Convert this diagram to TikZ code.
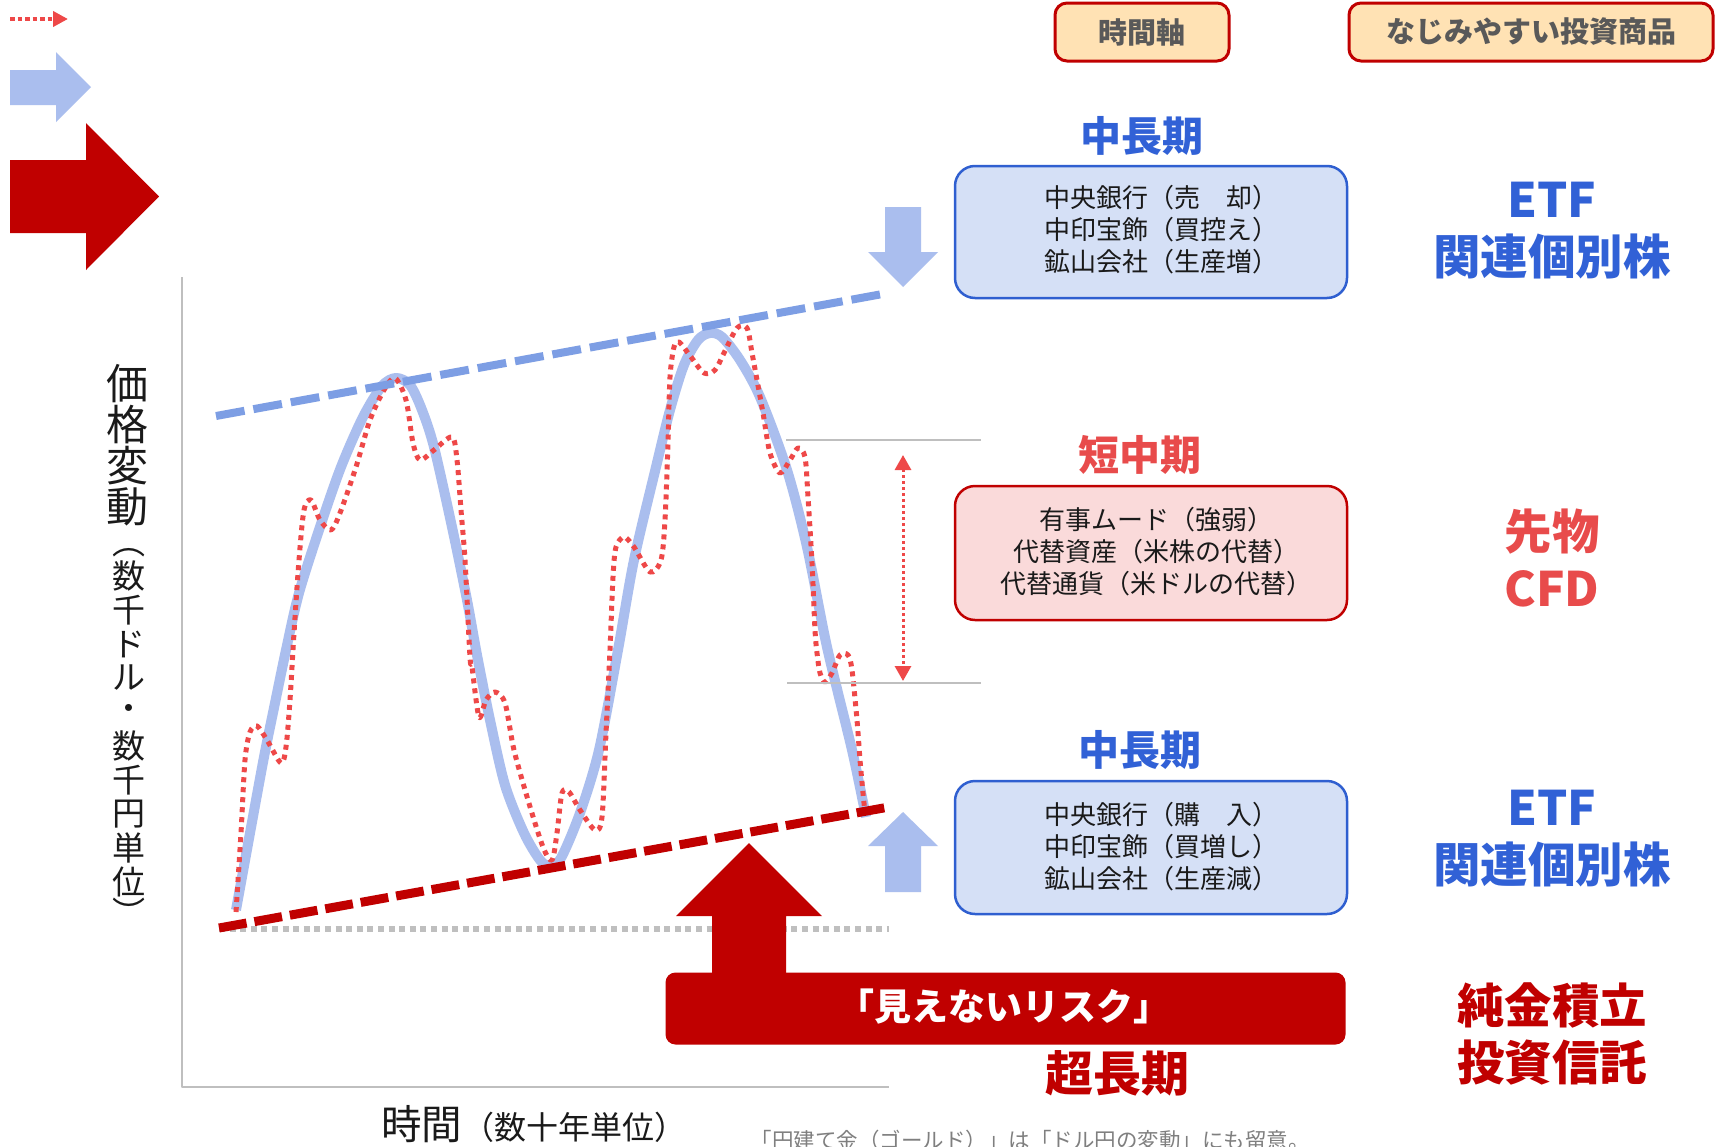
\documentclass[tikz,border=0pt]{standalone}
\usepackage{fontspec}
\setmainfont{Noto Sans CJK JP}
\usetikzlibrary{arrows.meta}
\definecolor{dred}{RGB}{192,0,0}
\definecolor{tblue}{RGB}{49,97,214}
\definecolor{bxblue}{RGB}{47,95,208}
\definecolor{bxbluefill}{RGB}{213,224,246}
\definecolor{lblue}{RGB}{170,190,238}
\definecolor{mblue}{RGB}{125,158,228}
\definecolor{rdot}{RGB}{238,72,72}
\definecolor{tred}{RGB}{232,75,75}
\definecolor{pinkfill}{RGB}{250,218,218}
\definecolor{hdrfill}{RGB}{255,226,180}
\definecolor{hdrgray}{RGB}{89,89,89}
\definecolor{axgray}{RGB}{191,191,191}
\definecolor{notegray}{RGB}{127,127,127}
\definecolor{txt}{RGB}{26,26,26}
\tikzset{
  hdr/.style={draw=dred, line width=3pt, fill=hdrfill, rounded corners=12pt, text=hdrgray,
    font=\bfseries\fontsize{29}{30}\selectfont, inner sep=0pt, minimum height=58pt},
  term/.style={font=\bfseries\fontsize{41}{41}\selectfont, inner sep=0pt},
  infobox/.style={rounded corners=20pt, line width=2.5pt, inner sep=0pt, minimum width=392pt},
  boxtext/.style={align=center, text=txt, font=\fontsize{26}{32}\selectfont, inner sep=0pt},
  prod/.style={align=center, font=\bfseries\fontsize{47.5}{57}\selectfont, inner sep=0pt},
  vlabA/.style={font=\fontsize{42}{42}\selectfont, text=txt, inner sep=0pt},
  vlabB/.style={font=\fontsize{33}{33}\selectfont, text=txt, inner sep=0pt},
  bigarrow/.style={fill=dred},
  smallarrow/.style={fill=lblue},
}
\begin{document}
\begin{tikzpicture}[x=1pt,y=-1pt,line join=round]
\useasboundingbox (0,0) rectangle (1716,1146);
\fill[white] (0,0) rectangle (1716,1146);

% ---- legend (top left)
\coordinate (lg1) at (10,19);
\coordinate (lg2) at (68,19);
\draw[rdot, line width=4.5pt, dash pattern=on 4.5pt off 3pt, -{Triangle[length=15pt,width=15pt]}] (lg1) -- (lg2);
\fill[smallarrow] (10,70) -- (56,70) -- (56,52) -- (91,87) -- (56,122) -- (56,105) -- (10,105) -- cycle;
\fill[bigarrow] (10,160) -- (86,160) -- (86,123) -- (159,196.5) -- (86,270) -- (86,233) -- (10,233) -- cycle;

% ---- headers
\node[hdr, minimum width=174pt] (hd1) at (1142,32) {時間軸};
\node[hdr, minimum width=364pt] (hd2) at (1531,32) {なじみやすい投資商品};

% ---- axes
\coordinate (axt) at (182,277);
\coordinate (axo) at (182,1087);
\coordinate (axr) at (889,1087);
\draw[axgray, line width=1.5pt] (axt) -- (axo) -- (axr);

% ---- gray dotted base line
\coordinate (g1) at (219,929);
\coordinate (g2) at (889,929);
\draw[axgray, line width=6pt, dash pattern=on 6pt off 4.6pt] (g1) -- (g2);

% ---- light blue price curve
\draw[lblue, line width=10pt, line cap=butt] plot[smooth, tension=0.5] coordinates {
(236,910) (250,833) (264,757) (275,703) (286,650) (299,593) (320,527) (341,467) (363,417)
(382,386) (396,378) (410,385) (422,410) (434,447) (452,527) (467,600) (477,655) (490,720)
(505,785) (524,833) (540,860) (550,866) (561,858) (580,813) (599,750) (618,650) (634,560)
(656,467) (670,410) (684,365) (698,340) (710,333) (722,337) (740,360) (760,397) (787,470)
(807,547) (827,647) (852,750) (866,817)};

% ---- red dotted short-term curve
\draw[rdot, line width=5pt, dash pattern=on 5pt off 5pt] plot[smooth, tension=0.5] coordinates {
(236,912) (241,833) (245,760) (250,732) (257,726) (267,740) (281,763) (286,747) (290,700)
(294,633) (299,560) (304,510) (311,500) (320,520) (331,530) (340,513) (356,467) (370,420)
(384,390) (395,378) (406,400) (413,443) (420,460) (434,450) (452,437) (457,460) (461,510)
(465,560) (470,657) (472,667) (479,717) (486,700) (495,692) (505,703) (514,750) (528,800)
(543,847) (552,860) (557,833) (562,793) (569,792) (580,810) (595,830) (602,817) (606,733)
(610,650) (613,577) (616,547) (624,537) (634,547) (650,572) (661,560) (665,520) (668,443)
(670,377) (674,347) (679,342) (691,357) (704,373) (715,370) (724,353) (737,328) (747,328)
(752,353) (757,380) (763,413) (770,453) (780,473) (790,460) (798,448) (805,457) (808,497)
(812,563) (815,630) (817,653) (820,673) (825,682) (832,673) (840,655) (848,655) (852,670)
(857,720) (860,760) (863,793) (865,813)};

% ---- trend lines
\coordinate (ub1) at (216,416);
\coordinate (ub2) at (888,293);
\draw[mblue, line width=8pt, dash pattern=on 29pt off 9pt] (ub1) -- (ub2);
\coordinate (lr1) at (219,928);
\coordinate (lr2) at (889,807);
\draw[dred, line width=9pt, dash pattern=on 28pt off 8pt] (lr1) -- (lr2);

% ---- short-term range markers
\coordinate (h1a) at (786,440); \coordinate (h1b) at (981,440);
\coordinate (h2a) at (787,683); \coordinate (h2b) at (981,683);
\draw[axgray, line width=1.5pt] (h1a) -- (h1b);
\draw[axgray, line width=1.5pt] (h2a) -- (h2b);
\coordinate (da1) at (903,455);
\coordinate (da2) at (903,681);
\draw[rdot, line width=3pt, dash pattern=on 3pt off 3pt,
  {Triangle[length=15pt,width=16pt]}-{Triangle[length=15pt,width=16pt]}] (da1) -- (da2);

% ---- block arrows
\fill[smallarrow] (885,207) -- (921,207) -- (921,252) -- (938,252) -- (903,287) -- (868,252) -- (885,252) -- cycle;
\fill[smallarrow] (885,892) -- (885,846) -- (868,846) -- (903,812) -- (938,846) -- (921,846) -- (921,892) -- cycle;
\fill[bigarrow] (712,976) -- (712,916) -- (676,916) -- (749,843) -- (822,916) -- (786,916) -- (786,976) -- cycle;

% ---- term titles and boxes
\node[term, text=tblue] (t1) at (1142,136) {中長期};
\node[infobox, draw=bxblue, fill=bxbluefill, minimum height=132pt] (b1) at (1151,232) {};
\node[boxtext] (b1t) at (1161,229.5) {中央銀行（売　却）\\中印宝飾（買控え）\\鉱山会社（生産増）};
\node[term, text=tred] (t2) at (1140,455) {短中期};
\node[infobox, draw=dred, fill=pinkfill, minimum height=134pt] (b2) at (1151,553) {};
\node[boxtext] (b2t) at (1156,552) {有事ムード（強弱）\\代替資産（米株の代替）\\代替通貨（米ドルの代替）};
\node[term, text=tblue] (t3) at (1140,750) {中長期};
\node[infobox, draw=bxblue, fill=bxbluefill, minimum height=133pt] (b3) at (1151,847.5) {};
\node[boxtext] (b3t) at (1161,847) {中央銀行（購　入）\\中印宝飾（買増し）\\鉱山会社（生産減）};

% ---- red risk bar
\node[fill=dred, rounded corners=10pt, minimum width=680pt, minimum height=72pt, inner sep=0pt] (rb) at (1005.5,1008.5) {};
\node[text=white, font=\bfseries\fontsize{37}{37}\selectfont, inner sep=0pt] (rbt) at (1004,1007) {「見えないリスク」};
\node[font=\bfseries\fontsize{48}{48}\selectfont, text=dred, inner sep=0pt] (t4) at (1117,1073) {超長期};

% ---- products
\node[prod, text=tblue] (p1) at (1552,231) {ETF\\関連個別株};
\node[prod, text=tred] (p2) at (1552,558) {先物\\CFD};
\node[prod, text=tblue] (p3) at (1552,838.5) {ETF\\関連個別株};
\node[prod, text=dred] (p4) at (1552,1034) {純金積立\\投資信託};

% ---- axis labels
\node[anchor=base west, inner sep=0pt, text=txt] (xl) at (381,1139)
  {{\fontsize{40.5}{40}\selectfont 時間}{\fontsize{32}{32}\selectfont （数十年単位）}};
\foreach \ch/\yy [count=\i] in {価/384,格/425,変/466,動/507}
  \node[vlabA] (va\i) at (127,\yy) {\ch};
\node[vlabB, rotate=-90] (vpo) at (129,542) {（};
\foreach \ch/\yy [count=\i] in {数/576,千/610,ド/644,ル/678,・/712,数/746,千/780,円/814,単/848,位/882}
  \node[vlabB] (vb\i) at (129,\yy) {\ch};
\node[vlabB, rotate=-90] (vpc) at (129,913) {）};

% ---- footnote
\node[anchor=base, inner sep=0pt, text=notegray, font=\fontsize{21.5}{22}\selectfont] (note) at (1030,1148)
  {「円建て金（ゴールド）」は「ドル円の変動」にも留意。};
\end{tikzpicture}
\end{document}
